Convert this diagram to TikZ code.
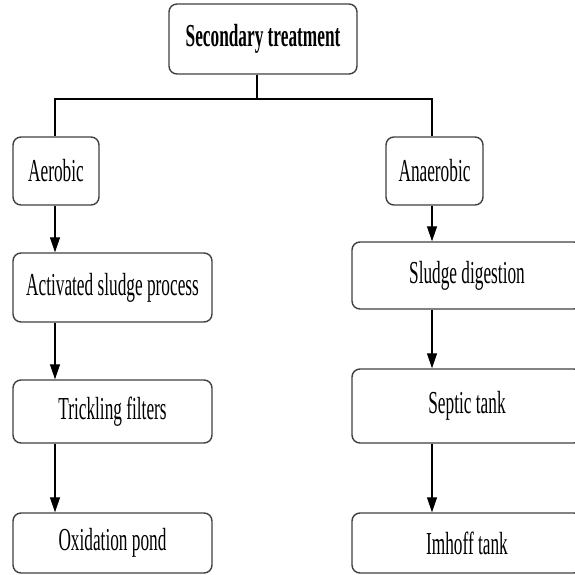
\documentclass[tikz,border=0pt]{standalone}
\usepackage{fontspec}
\setmainfont[FakeStretch=0.54]{Liberation Serif}
\usetikzlibrary{arrows.meta}
\begin{document}
\begin{tikzpicture}[x=1pt,y=-1pt,
  box/.style={draw=black!75,line width=1.4pt,rounded corners=8pt,fill=white,
    inner sep=0pt,font=\fontsize{32}{36}\selectfont},
  link/.style={draw=black,line width=1.2pt},
  arr/.style={link,-{Triangle[length=15pt,width=10pt]}}]
\useasboundingbox (0,0) rectangle (574,575);
\node[box,font=\fontsize{32}{36}\selectfont\bfseries,minimum width=188pt,minimum height=70pt] (top) at (263,39) {Secondary treatment};
\node[box,minimum width=86pt,minimum height=68pt] (aer) at (56,171) {Aerobic};
\node[box,minimum width=97pt,minimum height=68pt] (ana) at (434.5,171) {Anaerobic};
\node[box,minimum width=199pt,minimum height=69pt] (act) at (112.5,287.5) {Activated sludge process};
\node[box,minimum width=199pt,minimum height=63pt] (tri) at (112.5,411.5) {Trickling filters};
\node[box,minimum width=199pt,minimum height=60pt] (oxi) at (112.5,543) {Oxidation pond};
\node[box,minimum width=230pt,minimum height=67pt] (slu) at (467,275.5) {Sludge digestion};
\node[box,minimum width=230pt,minimum height=74pt] (sep) at (467,406) {Septic tank};
\node[box,minimum width=230pt,minimum height=60pt] (imh) at (467,543) {Imhoff tank};
\coordinate (stem) at (257,99);
\coordinate (jl) at (55,99);
\coordinate (jr) at (432,99);
\draw[link] (top.south -| stem) -- (stem);
\draw[link] (aer.north -| jl) -- (jl) -- (jr) -- (ana.north -| jr);
\draw[arr] (aer.south -| jl) -- (act.north -| jl);
\draw[arr] (act.south -| jl) -- (tri.north -| jl);
\draw[arr] (tri.south -| jl) -- (oxi.north -| jl);
\draw[arr] (ana.south -| jr) -- (slu.north -| jr);
\draw[arr] (slu.south -| jr) -- (sep.north -| jr);
\draw[arr] (sep.south -| jr) -- (imh.north -| jr);
\end{tikzpicture}
\end{document}
